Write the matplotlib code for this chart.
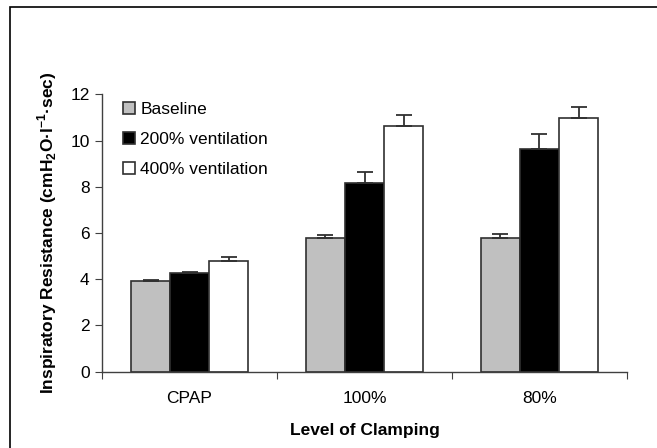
import matplotlib
matplotlib.use("Agg")
import matplotlib.pyplot as plt
from matplotlib.patches import Rectangle
import numpy as np

plt.rcParams['font.family'] = ['Liberation Sans', 'DejaVu Sans']
plt.rcParams['mathtext.fontset'] = 'custom'
plt.rcParams['mathtext.rm'] = 'Liberation Sans'
plt.rcParams['mathtext.bf'] = 'Liberation Sans:bold'

categories = ["CPAP", "100%", "80%"]
series = ["Baseline", "200% ventilation", "400% ventilation"]
baseline = [3.92, 5.77, 5.78]
vent200 = [4.28, 8.18, 9.63]
vent400 = [4.78, 10.62, 10.97]
err_baseline = [0.05, 0.16, 0.16]
err_200 = [0.04, 0.45, 0.64]
err_400 = [0.19, 0.47, 0.48]

colors = ["#c0c0c0", "#000000", "#ffffff"]
values = [baseline, vent200, vent400]
errors = [err_baseline, err_200, err_400]

fig = plt.figure(figsize=(6.57, 4.48), dpi=100)
ax = fig.add_axes([0.1553, 0.1703, 0.799, 0.6192])

# thin frame around the whole chart (runs off the right/bottom edge)
fig.patches.append(Rectangle((10 / 657, -0.1), 1.2, 1.1 - 7 / 448,
                             transform=fig.transFigure, fill=False,
                             edgecolor="black", linewidth=1.2))

width = 0.223
x = np.arange(len(categories)) + 0.5
for k, (vals, errs, col, name) in enumerate(zip(values, errors, colors, series)):
    pos = x + (k - 1) * width
    ax.bar(pos, vals, width, color=col, edgecolor="#303030", linewidth=1.2,
           label=name, zorder=2)
    ax.errorbar(pos, vals, yerr=[np.zeros(len(errs)), errs], fmt="none",
                ecolor="#303030", elinewidth=1.3, capsize=6, capthick=1.3,
                zorder=3)

ax.set_xlim(0, 3)
ax.set_ylim(0, 12)
ax.set_yticks(range(0, 13, 2))
ax.set_xticks([0, 1, 2, 3])
ax.set_xticklabels([])
ax.set_xticks(x, minor=True)
ax.set_xticklabels(categories, minor=True)
ax.tick_params(axis="x", which="minor", length=0, pad=14, labelsize=12.5)
ax.tick_params(axis="x", which="major", direction="out", length=5,
               color="#404040")
ax.tick_params(axis="y", direction="out", length=5, labelsize=12.5,
               color="#404040", pad=4)

for s in ["top", "right"]:
    ax.spines[s].set_visible(False)
for s in ["left", "bottom"]:
    ax.spines[s].set_color("#404040")
    ax.spines[s].set_linewidth(1.0)

ax.set_xlabel("Level of Clamping", fontsize=12.5, fontweight="bold", labelpad=12)
ax.set_ylabel("Inspiratory Resistance (cmH$_\\mathbf{2}$O\u00b7l$^\\mathbf{-1}$\u00b7sec)",
              fontsize=12.5, fontweight="bold", labelpad=8)

leg = ax.legend(loc="upper left", bbox_to_anchor=(0.02, 1.01), frameon=False,
                fontsize=12.5, handlelength=0.7, handleheight=0.7,
                handletextpad=0.3, labelspacing=0.85, borderaxespad=0.2)

fig.savefig("out.png", dpi=100)
